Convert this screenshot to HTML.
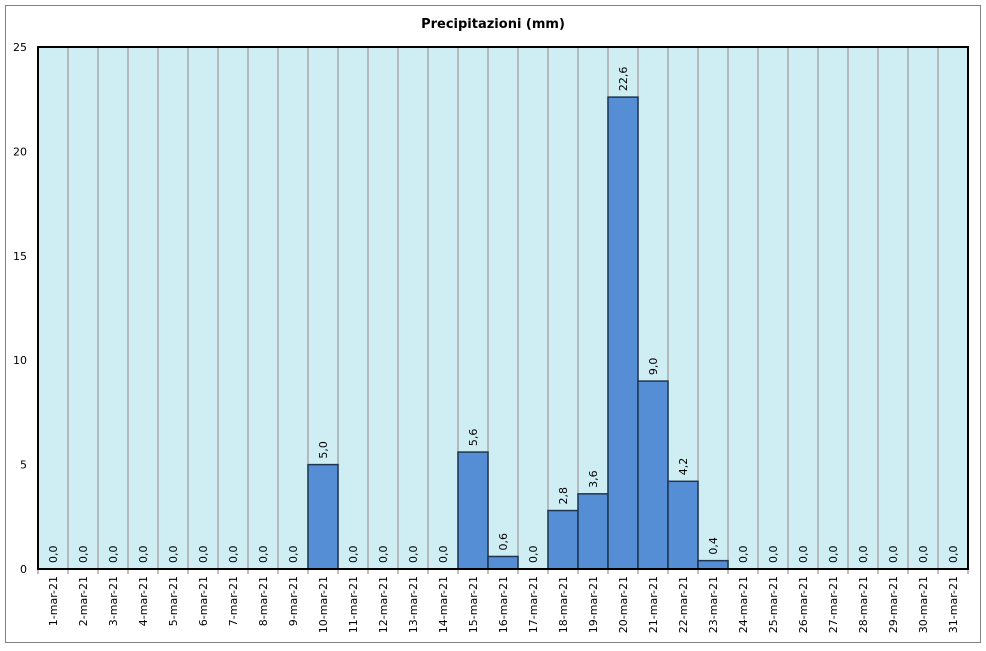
<!DOCTYPE html>
<html><head><meta charset="utf-8"><style>
body{margin:0;background:#fff;font-family:"DejaVu Sans","Liberation Sans",sans-serif;}
</style></head><body>
<svg width="986" height="647" xmlns="http://www.w3.org/2000/svg">
<rect x="5.5" y="5.5" width="975" height="637" fill="#fff" stroke="#808080"/>
<text x="493" y="28" text-anchor="middle" font-size="13" font-weight="bold" font-family="DejaVu Sans, Liberation Sans, sans-serif">Precipitazioni (mm)</text>
<g id="plot"></g>
</svg>
<script>
const categories=[];for(let i=1;i<=31;i++)categories.push(i+'-mar-21');
const values=[0,0,0,0,0,0,0,0,0,5.0,0,0,0,0,5.6,0.6,0,2.8,3.6,22.6,9.0,4.2,0.4,0,0,0,0,0,0,0,0];
const yTicks=[0,5,10,15,20,25];
const NS='http://www.w3.org/2000/svg';
const L=38,R=968,T=47,B=569,yMax=25;
const bw=(R-L)/categories.length;
const x=i=>L+i*bw;
const y=v=>B-(v/yMax)*(B-T);
const g=document.getElementById('plot');
function mk(t,a){const e=document.createElementNS(NS,t);for(const k in a)e.setAttribute(k,a[k]);g.appendChild(e);return e;}
let e=mk('rect',{x:L,y:T,width:R-L,height:B-T,fill:'#cfeef4'});


for(let i=1;i<categories.length;i++){
 e=mk('line',{x1:x(i),x2:x(i),y1:T,y2:B,stroke:'#a8a8a8','stroke-width':1.5});
 
 
}
values.forEach((v,i)=>{
 if(v>0){
  e=mk('rect',{x:x(i),y:y(v),width:bw,height:B-y(v),fill:'#558ed5',stroke:'#1f3550','stroke-width':1.5});
  
  
 }
 const cx=x(i)+bw/2+4,cy=y(v)-6;
 e=mk('text',{x:cx,y:cy,transform:`rotate(-90 ${cx} ${cy})`,'font-size':11,fill:'#000'});
 e.textContent=v.toFixed(1).replace('.',',');
 
 
 const lx=x(i)+bw/2+4,ly=B+7;
 e=mk('text',{x:lx,y:ly,transform:`rotate(-90 ${lx} ${ly})`,'font-size':11,'text-anchor':'end',fill:'#000'});
 e.textContent=categories[i];
 
 
});
for(let i=0;i<=categories.length;i++){
 e=mk('line',{x1:x(i),x2:x(i),y1:B,y2:B+5,stroke:'#808080','stroke-width':1});
 
 
}
yTicks.forEach(t=>{
 e=mk('text',{x:27,y:y(t)+4,'font-size':11,'text-anchor':'end'});
 e.textContent=t;
 
 
});
e=mk('rect',{x:L,y:T,width:R-L,height:B-T,fill:'none',stroke:'#000','stroke-width':2});


</script>
</body></html>
